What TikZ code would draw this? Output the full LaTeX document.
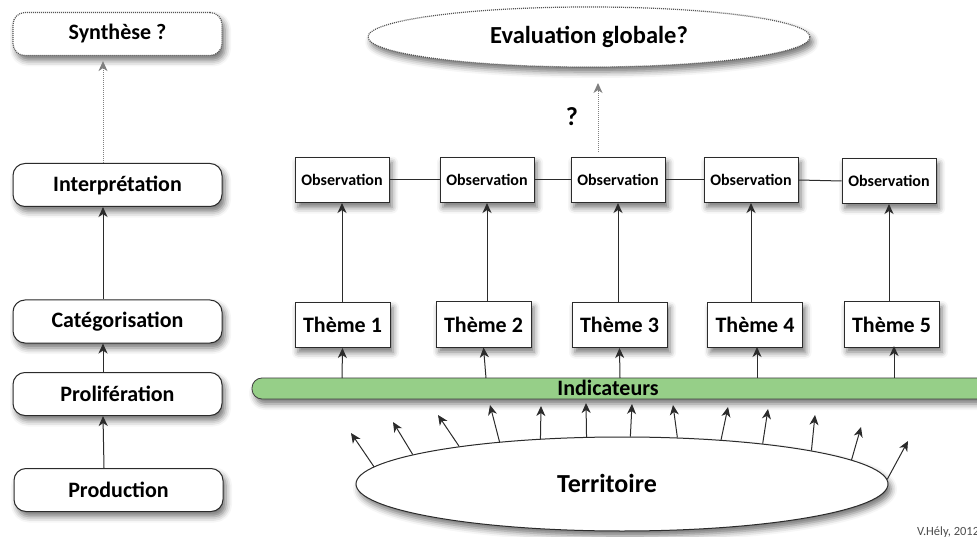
\documentclass[tikz,border=0pt]{standalone}
\usepackage{fontspec}
\setmainfont{Carlito}
\usetikzlibrary{shapes.geometric,arrows.meta,shadows.blur}
\definecolor{barg}{HTML}{96CF88}
\definecolor{edge}{HTML}{2B2B2B}
\begin{document}
\begin{tikzpicture}[x=1pt,y=-1pt,
  shd/.style={blur shadow={shadow xshift=3pt,shadow yshift=-5pt,shadow blur radius=6pt,shadow opacity=55}},
  lbox/.style={draw=edge,line width=1pt,rounded corners=12pt,fill=white,minimum width=209pt,minimum height=43pt,inner sep=0pt,font=\bfseries\fontsize{22}{24}\selectfont,shd},
  obox/.style={draw=edge,line width=1pt,fill=white,minimum width=94pt,minimum height=45pt,inner sep=0pt,font=\bfseries\fontsize{16}{18}\selectfont,shd},
  tbox/.style={draw=edge,line width=1pt,fill=white,minimum width=95pt,minimum height=45pt,inner sep=0pt,font=\bfseries\fontsize{22}{24}\selectfont,shd},
  eli/.style={ellipse,draw=edge,line width=1pt,fill=white,inner sep=0pt,shd},
  arr/.style={-{Stealth[length=10pt,width=9pt,inset=3pt]},line width=1pt,draw=edge},
  darr/.style={-{Stealth[length=10pt,width=9pt,inset=3pt]},line width=1pt,draw=gray,densely dotted},
  dborder/.style={draw=edge!80,densely dotted,line width=1.2pt}
]
\useasboundingbox (0,0) rectangle (977,537);

% left column
\node[lbox,dborder] (syn) at (117.5,34) {Synthèse ?};
\node[lbox] (int) at (117.5,185) {Interprétation};
\node[lbox] (cat) at (117.5,321.5) {Catégorisation};
\node[lbox] (pro) at (117.5,394) {Prolifération};
\node[lbox] (prod) at (118.5,490) {Production};

\draw[darr] ([xshift=-14.5pt]int.north) -- ([xshift=-14.5pt,yshift=-5pt]syn.south);
\draw[arr] ([xshift=-14.5pt]cat.north) -- ([xshift=-14.5pt]int.south);
\draw[arr] ([xshift=-14.5pt]pro.north) -- ([xshift=-14.5pt]cat.south);
\draw[arr] ([xshift=-14.5pt]prod.north) -- ([xshift=-14.5pt]pro.south);

% global evaluation
\node[eli,dborder,minimum width=442pt,minimum height=60pt,font=\bfseries\fontsize{24.5}{26}\selectfont] (eval) at (589,37) {Evaluation globale?};
\node[font=\bfseries\fontsize{26}{28}\selectfont] (q) at (572,117) {?};
\coordinate (qa) at (598,152);
\coordinate (qb) at (598,83);
\draw[darr] (qa) -- (qb);

% observations
\node[obox] (obs1) at (342,180) {Observation};
\node[obox] (obs2) at (487,180) {Observation};
\node[obox] (obs3) at (618,180) {Observation};
\node[obox] (obs4) at (751,180) {Observation};
\node[obox] (obs5) at (889,181) {Observation};
\draw[line width=1pt,draw=edge] (obs1.east) -- (obs2.west);
\draw[line width=1pt,draw=edge] (obs2.east) -- (obs3.west);
\draw[line width=1pt,draw=edge] (obs3.east) -- (obs4.west);
\draw[line width=1pt,draw=edge] (obs4.east) -- (obs5.west);

% themes
\node[tbox] (th1) at (342.5,325) {Thème 1};
\node[tbox] (th2) at (483.5,324.5) {Thème 2};
\node[tbox] (th3) at (619.5,325) {Thème 3};
\node[tbox] (th4) at (755,325) {Thème 4};
\node[tbox] (th5) at (891.5,324.5) {Thème 5};
\foreach \i in {1,...,5}{
  \draw[arr] (obs\i.south |- th\i.north) -- (obs\i.south);
}

% indicators bar
\node[draw=edge!90,line width=0.8pt,fill=barg,rounded corners=10pt,minimum width=740pt,minimum height=21pt,inner sep=0pt,shd] (ind) at (622,388.5) {};
\node[font=\bfseries\fontsize{22}{24}\selectfont] (indl) at (608,388) {Indicateurs};
\draw[arr] (342,378) -- (th1.south);
\draw[arr] (486,378) -- (th2.south);
\draw[arr] (620,378) -- (th3.south);
\draw[arr] (757,378) -- (757,347);
\draw[arr] (894,378) -- (894,346);

% territory
\node[eli,minimum width=532pt,minimum height=94pt] (terr) at (622,484) {};
\node[font=\bfseries\fontsize{26}{28}\selectfont] (terrl) at (607,483) {Territoire};
\foreach \a/\x/\y [count=\i] in {176.4/351/433, 172.1/393/422, 167.5/438/415, 161.8/490/405, 151.2/541/406, 127.3/586/403, 80.1/632/404, 40.8/673/405, 24.1/728/407, 16.7/768/409, 10.6/815/415, 6.6/861/427, 1.9/908/441}{
  \coordinate (tip\i) at (\x,\y);
  \draw[arr] (terr.\a) -- (tip\i);
}

% credit
\node[anchor=west,inner sep=0pt,font=\fontsize{12.5}{14}\selectfont,text=black!70] (cred) at (917,532) {V.Hély, 2012};
\end{tikzpicture}
\end{document}
